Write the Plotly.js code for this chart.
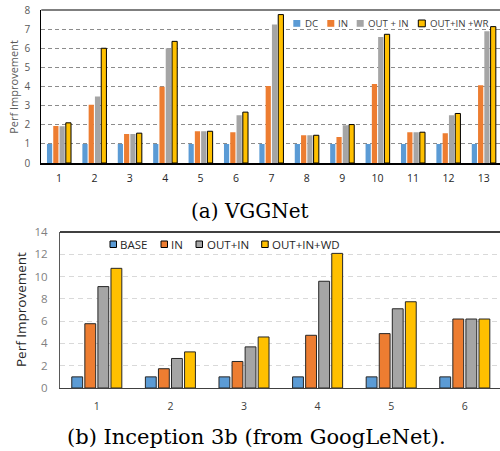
<!DOCTYPE html>
<html><head><meta charset="utf-8">
<script src="https://cdn.plot.ly/plotly-3.0.1.min.js"></script>
<style>html,body{margin:0;padding:0;background:#fff;overflow:hidden}#chart{width:500px;height:451px}</style>
</head><body><div id="chart"></div>
<script>
// ---- Data: (a) VGGNet ----
const vggCategories = ['1','2','3','4','5','6','7','8','9','10','11','12','13'];
const vggSeriesNames = ['DC','IN','OUT + IN','OUT+IN +WR'];
const vggDC     = [1, 1, 1, 1, 1, 1, 1, 1, 1, 1, 1, 1, 1];
const vggIN     = [1.94, 3.04, 1.52, 3.99, 1.66, 1.61, 4.02, 1.45, 1.36, 4.13, 1.61, 1.56, 4.07];
const vggOutIn  = [1.92, 3.48, 1.52, 6.00, 1.66, 2.50, 7.24, 1.45, 1.98, 6.59, 1.61, 2.50, 6.89];
const vggOutInWR= [2.10, 6.00, 1.56, 6.36, 1.66, 2.66, 7.76, 1.45, 2.01, 6.73, 1.61, 2.59, 7.13];
const vggYTicks = [0,1,2,3,4,5,6,7,8];

// ---- Data: (b) Inception 3b ----
const incCategories = ['1','2','3','4','5','6'];
const incSeriesNames = ['BASE','IN','OUT+IN','OUT+IN+WD'];
const incBase   = [1, 1, 1, 1, 1, 1];
const incIN     = [5.77, 1.73, 2.38, 4.73, 4.88, 6.19];
const incOutIn  = [9.10, 2.65, 3.69, 9.58, 7.11, 6.19];
const incOutInWD= [10.74, 3.24, 4.58, 12.08, 7.74, 6.19];
const incYTicks = [0,2,4,6,8,10,12,14];

const colors = ['#5B9BD5','#ED7D31','#A5A5A5','#FFC000'];

const W = 500, H = 451;
const px = x => x / W;
const py = y => (H - y) / H;
const FONT = 'Open Sans, Noto Sans, sans-serif';
const SERIF = 'DejaVu Serif, Liberation Serif, serif';

const vggVals = [vggDC, vggIN, vggOutIn, vggOutInWR];
const incVals = [incBase, incIN, incOutIn, incOutInWD];

const traces = [];
vggVals.forEach((vals, i) => {
  traces.push({
    type: 'bar', x: vggCategories, y: vals, name: vggSeriesNames[i],
    xaxis: 'x', yaxis: 'y', showlegend: false,
    marker: {color: colors[i], line: {color: '#000', width: i === 3 ? 1 : 0}}
  });
});
incVals.forEach((vals, i) => {
  traces.push({
    type: 'bar', x: incCategories, y: vals, name: incSeriesNames[i],
    xaxis: 'x2', yaxis: 'y2', showlegend: false,
    marker: {color: colors[i], line: {color: '#262626', width: 1}}
  });
});

// Legend layout positions (pixels)
const vggLegSqX = [293.3, 327.3, 356.7, 418.3];
const vggLegTxX = [302.5, 335.5, 366, 428];
const incLegSqX = [110, 161, 196, 261.7];
const incLegTxX = [117.5, 169, 204.5, 270];

const shapes = [
  {type:'line', xref:'x domain', yref:'y domain', x0:0, x1:1, y0:1, y1:1, line:{color:'#000', width:1.2}},
  {type:'line', xref:'x2 domain', yref:'y2 domain', x0:0, x1:1, y0:1, y1:1, line:{color:'#404040', width:2}}
];
const annotations = [];
vggSeriesNames.forEach((n, i) => {
  shapes.push({type:'rect', xref:'paper', yref:'paper',
    x0: px(vggLegSqX[i]), x1: px(vggLegSqX[i] + 7), y0: py(26.8), y1: py(20),
    fillcolor: colors[i], line: {color: '#000', width: i === 3 ? 1 : 0}});
  annotations.push({xref:'paper', yref:'paper', x: px(vggLegTxX[i]), y: py(23.5),
    xanchor:'left', yanchor:'middle', showarrow:false, text: n,
    font:{family: FONT, size: 9.7, color:'#404040'}});
});
incSeriesNames.forEach((n, i) => {
  shapes.push({type:'rect', xref:'paper', yref:'paper',
    x0: px(incLegSqX[i]), x1: px(incLegSqX[i] + 6.5), y0: py(247.5), y1: py(241),
    fillcolor: colors[i], line: {color: '#000', width: 1}});
  annotations.push({xref:'paper', yref:'paper', x: px(incLegTxX[i]), y: py(244.3),
    xanchor:'left', yanchor:'middle', showarrow:false, text: n,
    font:{family: FONT, size: 11.5, color:'#262626'}});
});
// axis titles
annotations.push({xref:'paper', yref:'paper', x: px(13.3), y: py(86.5), textangle:-90,
  xanchor:'center', yanchor:'middle', showarrow:false, text:'Perf Improvement',
  font:{family: FONT, size: 11, color:'#595959'}});
annotations.push({xref:'paper', yref:'paper', x: px(21), y: py(310), textangle:-90,
  xanchor:'center', yanchor:'middle', showarrow:false, text:'Perf Improvement',
  font:{family: FONT, size: 13.5, color:'#262626'}});
// captions
annotations.push({xref:'paper', yref:'paper', x: px(250), y: py(211),
  xanchor:'center', yanchor:'middle', showarrow:false, text:'(a) VGGNet',
  font:{family: SERIF, size: 20, color:'#000'}});
annotations.push({xref:'paper', yref:'paper', x: px(256.5), y: py(437),
  xanchor:'center', yanchor:'middle', showarrow:false, text:'(b) Inception 3b (from GoogLeNet).',
  font:{family: SERIF, size: 21, color:'#000'}});

const layout = {
  width: W, height: H, margin: {l:0, r:0, t:0, b:0},
  paper_bgcolor: '#fff', plot_bgcolor: 'rgba(0,0,0,0)',
  barmode: 'group', bargap: 0.29, bargroupgap: 0.17,
  showlegend: false,
  xaxis: {
    domain: [px(41.3), 1], anchor: 'y', type: 'category',
    range: [-0.5, -0.5 + (500 - 41.3) / 35.4],
    showline: true, linecolor: '#000', linewidth: 2, showgrid: false, zeroline: false,
    ticks: '', ticklabelstandoff: 4,
    tickfont: {family: FONT, size: 10.5, color: '#262626'}
  },
  yaxis: {
    domain: [py(163), py(10)], anchor: 'x', range: [0, 8],
    tickvals: vggYTicks, showline: true, linecolor: '#000', linewidth: 1,
    showgrid: true, gridcolor: '#8c8c8c', gridwidth: 1, griddash: '4px,3px',
    zeroline: false, ticks: '', ticklabelstandoff: 8,
    tickfont: {family: FONT, size: 10, color: '#595959'}
  },
  xaxis2: {
    domain: [px(60), 1], anchor: 'y2', type: 'category',
    range: [-0.5, -0.5 + (500 - 60) / 73.6],
    showline: true, linecolor: '#404040', linewidth: 1, showgrid: false, zeroline: false,
    ticks: '', ticklabelstandoff: 8,
    tickfont: {family: FONT, size: 10.5, color: '#404040'}
  },
  yaxis2: {
    domain: [py(388), py(232)], anchor: 'x2', range: [0, 14],
    tickvals: incYTicks, showline: true, linecolor: '#595959', linewidth: 1,
    showgrid: true, gridcolor: '#d9d9d9', gridwidth: 1, griddash: '5px,4px',
    zeroline: false, ticks: '', ticklabelstandoff: 9,
    tickfont: {family: FONT, size: 11.5, color: '#7f7f7f'}
  },
  shapes: shapes,
  annotations: annotations
};

Plotly.newPlot('chart', traces, layout, {displayModeBar: false, staticPlot: true});
</script>
</body></html>
